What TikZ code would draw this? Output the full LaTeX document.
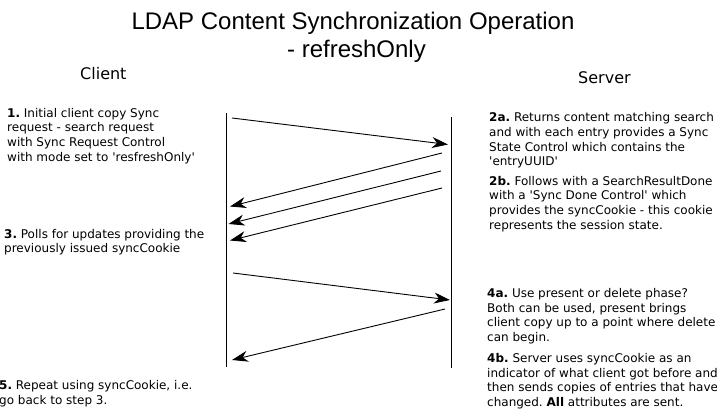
\documentclass[tikz,border=0pt]{standalone}
\usepackage{fontspec}
\newfontfamily\bodyfont{DejaVu Sans}
\newfontfamily\titlefont{Liberation Sans}
\usetikzlibrary{arrows.meta}
\frenchspacing
\begin{document}
\begin{tikzpicture}[x=1pt,y=-1pt,
  txt/.style={anchor=north west, inner sep=0pt, align=left, font=\bodyfont\fontsize{12}{14.6}\selectfont\frenchspacing},
  lbl/.style={anchor=base west, inner sep=0pt, font=\bodyfont\fontsize{16}{19}\selectfont},
  ttl/.style={anchor=base, inner sep=0pt, font=\titlefont\fontsize{24}{28}\selectfont},
  life/.style={line width=1pt},
  msg/.style={line width=0.9pt, -{Stealth[length=16pt,width=11pt,inset=5pt]}}
]
\useasboundingbox (0,0) rectangle (717,415);

\node[ttl] (title1) at (353,29) {LDAP Content Synchronization Operation};
\node[ttl] (title2) at (356.5,57) {- refreshOnly};
\node[lbl] (client) at (80,79) {Client};
\node[lbl] (server) at (578,83) {Server};

\node[txt] (s1) at (7,108) {\textbf{1.} Initial client copy Sync\\request - search request\\with Sync Request Control\\with mode set to 'resfreshOnly'};
\node[txt] (s3) at (4,229) {\textbf{3.} Polls for updates providing the\\previously issued syncCookie};
\node[txt] (s5) at (-1,380.5) {\textbf{5.} Repeat using syncCookie, i.e.\\go back to step 3.};
\node[txt] (s2a) at (489,112.6) {\textbf{2a.} Returns content matching search\\and with each entry provides a Sync\\State Control which contains the\\'entryUUID'};
\node[txt] (s2b) at (489,176) {\textbf{2b.} Follows with a SearchResultDone\\with a 'Sync Done Control' which\\provides the syncCookie - this cookie\\represents the session state.};
\node[txt] (s4a) at (487,288.2) {\textbf{4a.} Use present or delete phase?\\Both can be used, present brings\\client copy up to a point where delete\\can begin.};
\node[txt] (s4b) at (487,353.2) {\textbf{4b.} Server uses syncCookie as an\\indicator of what client got before and\\then sends copies of entries that have\\changed. \textbf{All} attributes are sent.};

\coordinate (cl1) at (226,113);
\coordinate (cl2) at (226,367);
\coordinate (sv1) at (451.5,117);
\coordinate (sv2) at (451.5,368);
\draw[life] (cl1) -- (cl2);
\draw[life] (sv1) -- (sv2);

\coordinate (m1s) at (232,118);   \coordinate (m1e) at (448,144.5);
\coordinate (m2s) at (442,153);   \coordinate (m2e) at (230,206.5);
\coordinate (m3s) at (441,171);   \coordinate (m3e) at (228.5,224);
\coordinate (m4s) at (442,188);   \coordinate (m4e) at (230,240.5);
\coordinate (m5s) at (233,273);   \coordinate (m5e) at (450,300);
\coordinate (m6s) at (445,309);   \coordinate (m6e) at (232,360);
\draw[msg] (m1s) -- (m1e);
\draw[msg] (m2s) -- (m2e);
\draw[msg] (m3s) -- (m3e);
\draw[msg] (m4s) -- (m4e);
\draw[msg] (m5s) -- (m5e);
\draw[msg] (m6s) -- (m6e);
\end{tikzpicture}
\end{document}
